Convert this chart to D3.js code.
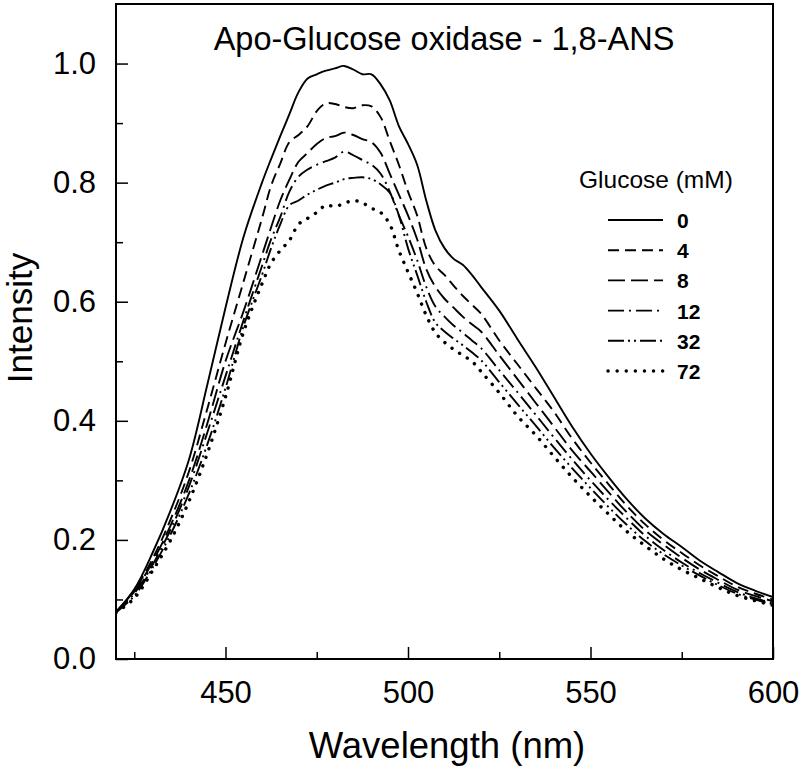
<!DOCTYPE html>
<html>
<head>
<meta charset="utf-8">
<script src="https://cdn.jsdelivr.net/npm/d3@7"></script>
<style>
  html, body { margin: 0; padding: 0; background: #fff; }
  svg { display: block; }
  text { font-family: "Liberation Sans", Arial, Helvetica, sans-serif; fill: #000; }
</style>
</head>
<body>
<svg id="chart" width="800" height="771"></svg>
<script>
// ---- data ----
const wavelengths = [420,425,430,435,440,445,450,455,460,
  462.5,465,467.5,470,472.5,475,477.5,480,482.5,485,487.5,490,492.5,495,497.5,500,502.5,505,507.5,510,512.5,515,517.5,520,
  525,530,535,540,545,550,555,560,565,570,575,580,585,590,595,600];

const glucose0 = [0.079,0.117,0.178,0.25,0.335,0.46,0.59,0.71,0.80,
  0.84,0.878,0.915,0.952,0.975,0.982,0.988,0.992,0.996,0.99,0.982,0.982,0.965,0.938,0.895,0.865,0.83,0.77,0.72,0.69,0.672,0.662,0.645,0.625,
  0.585,0.537,0.49,0.44,0.39,0.345,0.305,0.268,0.236,0.21,0.188,0.165,0.146,0.128,0.115,0.104];
const glucose4 = [0.079,0.115,0.168,0.235,0.315,0.42,0.53,0.635,0.74,
  0.795,0.832,0.868,0.88,0.895,0.92,0.933,0.932,0.927,0.925,0.93,0.928,0.91,0.87,0.83,0.785,0.745,0.69,0.66,0.645,0.627,0.61,0.595,0.58,
  0.535,0.495,0.455,0.415,0.37,0.33,0.293,0.257,0.226,0.2,0.178,0.157,0.139,0.122,0.11,0.1];
const glucose8 = [0.079,0.113,0.163,0.225,0.3,0.395,0.5,0.585,0.678,
  0.725,0.77,0.805,0.835,0.85,0.865,0.875,0.878,0.884,0.88,0.873,0.868,0.85,0.815,0.78,0.745,0.705,0.655,0.625,0.605,0.59,0.575,0.562,0.55,
  0.51,0.47,0.43,0.39,0.35,0.315,0.28,0.246,0.216,0.192,0.17,0.15,0.133,0.117,0.106,0.097];
const glucose12 = [0.079,0.11,0.158,0.218,0.29,0.38,0.475,0.57,0.66,
  0.705,0.742,0.785,0.81,0.822,0.83,0.836,0.842,0.852,0.846,0.838,0.83,0.815,0.785,0.745,0.71,0.67,0.625,0.592,0.575,0.56,0.548,0.535,0.522,
  0.485,0.448,0.41,0.372,0.335,0.3,0.267,0.236,0.207,0.183,0.162,0.144,0.128,0.113,0.102,0.094];
const glucose32 = [0.078,0.106,0.153,0.21,0.278,0.36,0.455,0.56,0.645,
  0.69,0.73,0.762,0.77,0.78,0.788,0.795,0.8,0.806,0.808,0.809,0.806,0.797,0.783,0.745,0.69,0.645,0.6,0.565,0.55,0.538,0.527,0.515,0.502,
  0.465,0.428,0.392,0.355,0.32,0.287,0.255,0.225,0.198,0.176,0.157,0.14,0.124,0.11,0.1,0.092];
const glucose72 = [0.078,0.102,0.148,0.2,0.265,0.345,0.44,0.55,0.63,
  0.665,0.686,0.703,0.73,0.74,0.75,0.762,0.76,0.765,0.77,0.766,0.757,0.75,0.73,0.686,0.65,0.615,0.577,0.548,0.532,0.52,0.51,0.5,0.483,
  0.447,0.408,0.376,0.34,0.305,0.273,0.243,0.214,0.19,0.168,0.15,0.135,0.12,0.107,0.098,0.09];

const seriesLabels = ["0","4","8","12","32","72"];
const seriesValues = [glucose0, glucose4, glucose8, glucose12, glucose32, glucose72];
const xTickValues = [450,500,550,600];
const yTickValues = [0,0.2,0.4,0.6,0.8,1.0];
const titleText = "Apo-Glucose oxidase - 1,8-ANS";
const xTitle = "Wavelength (nm)";
const yTitle = "Intensity";
const legendTitle = "Glucose (mM)";

// ---- layout / styles ----
const margin = {left:116, right:27, top:4, bottom:112};
const W = 800, H = 771;
const plotW = W - margin.left - margin.right;
const plotH = H - margin.top - margin.bottom;
const dashStyles = [
  {dash:null, width:1.9, cap:"butt"},
  {dash:"11,6", width:1.9, cap:"butt"},
  {dash:"17,6", width:1.9, cap:"butt"},
  {dash:"16,5,2,5", width:1.9, cap:"butt"},
  {dash:"16,4,2,4,2,4", width:1.9, cap:"butt"},
  {dash:"0.1,9", width:3.4, cap:"round"}
];

const svg = d3.select("#chart");
const g = svg.append("g").attr("transform", `translate(${margin.left},${margin.top})`);

const x = d3.scaleLinear().domain([420,600]).range([0, plotW]);
const y = d3.scaleLinear().domain([0,1.1]).range([plotH, 0]);

svg.append("defs").append("clipPath").attr("id","clip")
  .append("rect").attr("width", plotW).attr("height", plotH);

// frame
g.append("rect").attr("width", plotW).attr("height", plotH)
  .attr("fill","none").attr("stroke","#000").attr("stroke-width",2);

// axes (ticks pointing inward)
const xMajor = d3.axisBottom(x).tickValues(xTickValues).tickSize(-12).tickFormat(d3.format("d")).tickPadding(22);
const xMinor = d3.axisBottom(x).tickValues([425,475,525,575]).tickSize(-7).tickFormat("");
const yMajor = d3.axisLeft(y).tickValues(yTickValues).tickSize(-12).tickFormat(d3.format(".1f")).tickPadding(20);
const yMinor = d3.axisLeft(y).tickValues([0.1,0.3,0.5,0.7,0.9]).tickSize(-7).tickFormat("");

function styleAxis(sel){
  sel.select(".domain").remove();
  sel.selectAll(".tick line").attr("stroke","#000").attr("stroke-width",1.5);
  sel.selectAll(".tick text").attr("font-size",31).attr("fill","#000")
     .attr("font-family",'"Liberation Sans", Arial, sans-serif');
}
g.append("g").attr("transform",`translate(0,${plotH})`).call(xMajor).call(styleAxis);
g.append("g").attr("transform",`translate(0,${plotH})`).call(xMinor).call(styleAxis);
g.append("g").call(yMajor).call(styleAxis);
g.append("g").call(yMinor).call(styleAxis);

// lines
const line = d3.line()
  .x((d,i) => x(wavelengths[i]))
  .y(d => y(d))
  .curve(d3.curveCatmullRom.alpha(0.5));

const lines = g.append("g").attr("clip-path","url(#clip)");
seriesValues.forEach((vals, k) => {
  const st = dashStyles[k];
  lines.append("path")
    .attr("d", line(vals))
    .attr("fill","none")
    .attr("stroke","#000")
    .attr("stroke-width", st.width)
    .attr("stroke-linecap", st.cap)
    .attr("stroke-dasharray", st.dash);
});

// title
svg.append("text").attr("x", 444).attr("y", 50).attr("text-anchor","middle")
  .attr("font-size", 32.5).text(titleText);

// axis titles
svg.append("text").attr("x", 447).attr("y", 758).attr("text-anchor","middle")
  .attr("font-size", 36.5).text(xTitle);
svg.append("text").attr("transform","translate(32,318) rotate(-90)").attr("text-anchor","middle")
  .attr("font-size", 35).text(yTitle);

// legend
const legend = svg.append("g");
legend.append("text").attr("x", 579).attr("y", 188).attr("font-size", 24.5).text(legendTitle);
seriesLabels.forEach((lab, k) => {
  const st = dashStyles[k];
  const ly = 220 + k*30.2;
  legend.append("line").attr("x1", 608).attr("x2", 663).attr("y1", ly).attr("y2", ly)
    .attr("stroke","#000").attr("stroke-width", st.width)
    .attr("stroke-linecap", st.cap).attr("stroke-dasharray", st.dash);
  legend.append("text").attr("x", 677).attr("y", ly + 8).attr("font-size", 21)
    .attr("font-weight","bold").text(lab);
});
</script>
</body>
</html>
